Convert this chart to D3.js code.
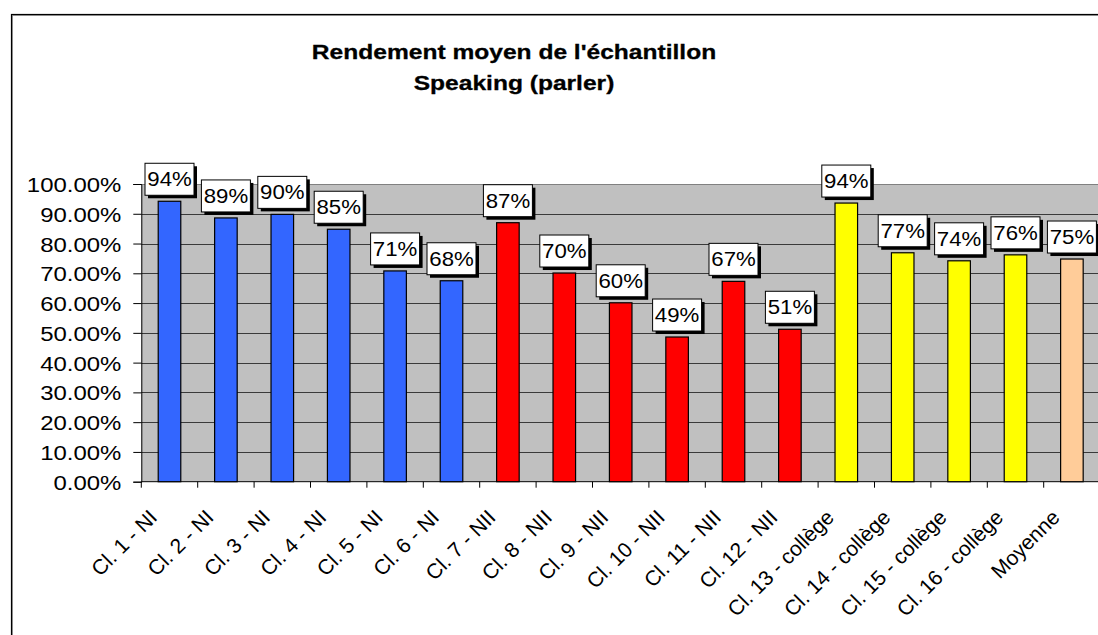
<!DOCTYPE html>
<html>
<head>
<meta charset="utf-8">
<script src="https://cdn.jsdelivr.net/npm/d3@7"></script>
<style>
  html, body { margin: 0; padding: 0; background: #ffffff; }
  svg { display: block; font-family: "Liberation Sans", Arial, sans-serif; }
</style>
</head>
<body>
<div id="chart"></div>
<script>
// Chart data
const categories = [
  'Cl. 1 - NI', 'Cl. 2 - NI', 'Cl. 3 - NI', 'Cl. 4 - NI', 'Cl. 5 - NI', 'Cl. 6 - NI',
  'Cl. 7 - NII', 'Cl. 8 - NII', 'Cl. 9 - NII', 'Cl. 10 - NII', 'Cl. 11 - NII', 'Cl. 12 - NII',
  'Cl. 13 - collège', 'Cl. 14 - collège', 'Cl. 15 - collège', 'Cl. 16 - collège', 'Moyenne'
]
const values = [94.2, 88.6, 89.8, 84.8, 70.8, 67.5, 87.0, 70.1, 60.1, 48.6, 67.3, 51.2, 93.6, 76.9, 74.2, 76.2, 74.8]
const valueLabels = ['94%', '89%', '90%', '85%', '71%', '68%', '87%', '70%', '60%', '49%', '67%', '51%', '94%', '77%', '74%', '76%', '75%']
const groups = ['NI', 'NI', 'NI', 'NI', 'NI', 'NI', 'NII', 'NII', 'NII', 'NII', 'NII', 'NII', 'col', 'col', 'col', 'col', 'moy']
const yTicks = [0, 10, 20, 30, 40, 50, 60, 70, 80, 90, 100]
const titleLines = ["Rendement moyen de l'échantillon", 'Speaking (parler)']

const groupColors = { NI: '#3366ff', NII: '#ff0000', col: '#ffff00', moy: '#ffcc99' }

const width = 1098
const height = 635
const sx = 1.14 // the original image is stretched horizontally
const plot = { left: 141.3, top: 184, bottom: 481.7, step: 56.4 }
plot.right = plot.left + plot.step * categories.length

const svg = d3.select('#chart')
  .append('svg')
  .attr('width', width)
  .attr('height', height)

// Outer chart frame
svg.append('rect')
  .attr('x', 12.5).attr('y', 15.5)
  .attr('width', width + 20).attr('height', height + 20)
  .attr('fill', 'none').attr('stroke', '#9a9a9a').attr('stroke-width', 1)
svg.append('rect')
  .attr('x', 11.5).attr('y', 14.5)
  .attr('width', width + 20).attr('height', height + 20)
  .attr('fill', 'none').attr('stroke', '#000').attr('stroke-width', 1.2)

// Title
svg.append('g')
  .selectAll('text')
  .data(titleLines)
  .join('text')
  .attr('transform', (d, i) => `translate(514, ${58.7 + i * 31.5}) scale(1.17,1)`)
  .attr('text-anchor', 'middle')
  .attr('font-size', '21px')
  .attr('font-weight', 'bold')
  .attr('fill', '#000')
  .attr('stroke', '#000')
  .attr('stroke-width', 0.3)
  .text(d => d)

const x = d3.scaleBand()
  .domain(categories)
  .range([plot.left, plot.right])
  .paddingInner(0.6)
  .paddingOuter(0.3)

const y = d3.scaleLinear()
  .domain([0, 100])
  .range([plot.bottom, plot.top])

// Plot area background
svg.append('rect')
  .attr('x', plot.left).attr('y', plot.top)
  .attr('width', plot.right - plot.left).attr('height', plot.bottom - plot.top)
  .attr('fill', '#c0c0c0')

// Gridlines
svg.append('g')
  .selectAll('line')
  .data(yTicks.filter(t => t > 0))
  .join('line')
  .attr('x1', plot.left).attr('x2', plot.right)
  .attr('y1', d => Math.round(y(d)) + 0.5).attr('y2', d => Math.round(y(d)) + 0.5)
  .attr('stroke', d => d === 100 ? '#808080' : '#3a3a3a')
  .attr('stroke-width', 1)

// Y axis
const yAxis = svg.append('g')
  .attr('transform', `translate(${plot.left},0)`)
  .call(d3.axisLeft(y).tickValues(yTicks).tickSize(8).tickPadding(12)
    .tickFormat(d => d3.format('.2f')(d) + '%'))
yAxis.select('.domain').attr('stroke', '#000')
yAxis.selectAll('.tick line').attr('stroke', '#000')
yAxis.selectAll('.tick text')
  .attr('font-size', '21px')
  .attr('fill', '#000')
  .attr('font-family', '"Liberation Sans", Arial, sans-serif')
  .attr('dy', '0.36em')
  .attr('transform', function () {
    const xx = +d3.select(this).attr('x')
    return `translate(${xx * (1 - sx)},0) scale(${sx},1)`
  })

// X axis line and ticks at category boundaries
svg.append('line')
  .attr('x1', plot.left).attr('x2', plot.right)
  .attr('y1', plot.bottom).attr('y2', plot.bottom)
  .attr('stroke', '#000')
svg.append('g')
  .selectAll('line')
  .data(d3.range(categories.length + 1))
  .join('line')
  .attr('x1', i => plot.left + i * x.step()).attr('x2', i => plot.left + i * x.step())
  .attr('y1', plot.bottom).attr('y2', plot.bottom + 6)
  .attr('stroke', '#000')

// Bars
svg.append('g')
  .selectAll('rect')
  .data(values)
  .join('rect')
  .attr('x', (d, i) => x(categories[i]))
  .attr('y', d => y(d))
  .attr('width', x.bandwidth())
  .attr('height', d => y(0) - y(d))
  .attr('fill', (d, i) => groupColors[groups[i]])
  .attr('stroke', '#000')
  .attr('stroke-width', 1.2)

// Data labels: white boxes with black drop shadow
const boxW = 49
const boxH = 32
const labelG = svg.append('g')
  .selectAll('g')
  .data(values)
  .join('g')
  .attr('transform', (d, i) => `translate(${x(categories[i]) + x.bandwidth() / 2}, ${y(d) - 6 - boxH})`)

labelG.append('rect')
  .attr('x', -boxW / 2 + 3).attr('y', 3)
  .attr('width', boxW).attr('height', boxH)
  .attr('fill', '#000')
labelG.append('rect')
  .attr('x', -boxW / 2).attr('y', 0)
  .attr('width', boxW).attr('height', boxH)
  .attr('fill', '#fff')
  .attr('stroke', '#000')
  .attr('stroke-width', 1)
labelG.append('text')
  .attr('transform', `translate(0, ${boxH / 2 + 7}) scale(${sx},1)`)
  .attr('text-anchor', 'middle')
  .attr('font-size', '19.5px')
  .attr('fill', '#000')
  .text((d, i) => valueLabels[i])

// Rotated category labels
svg.append('g')
  .selectAll('text')
  .data(categories)
  .join('text')
  .attr('transform', d => `translate(${x(d) + x.bandwidth() / 2 - 11}, ${plot.bottom + 37}) rotate(-45)`)
  .attr('text-anchor', 'end')
  .attr('font-size', '21px')
  .attr('fill', '#000')
  .text(d => d)
</script>
</body>
</html>
